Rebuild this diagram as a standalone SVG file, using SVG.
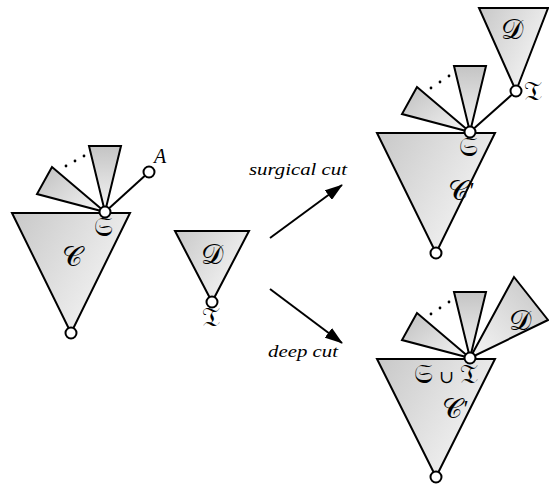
<svg xmlns="http://www.w3.org/2000/svg" width="549" height="485" viewBox="0 0 549 485">
<style>
.sh{stroke:#000;stroke-width:2;stroke-linejoin:miter}
.nd{fill:#fff;stroke:#000;stroke-width:2}
.ln{stroke:#000;stroke-width:2;fill:none}
.lb{font-family:"DejaVu Serif","DejaVu Sans",serif;font-size:28px;fill:#000;text-anchor:middle}
.fk{font-family:"DejaVu Serif","DejaVu Sans",serif;font-size:27px;fill:#000;text-anchor:middle}
.pr{font-family:"Liberation Serif",serif;font-style:italic;font-size:24px;fill:#000}
.it{font-family:"Liberation Serif",serif;font-style:italic;font-size:17px;fill:#000;text-anchor:middle}
.dot{fill:#000}
</style>
<defs>
<linearGradient id="gTri" x1="0" y1="0" x2="1" y2="0.6"><stop offset="0" stop-color="#c8c8c8"/><stop offset="1" stop-color="#f5f5f5"/></linearGradient>
<linearGradient id="gV" x1="0" y1="0" x2="0" y2="1"><stop offset="0" stop-color="#c4c4c4"/><stop offset="1" stop-color="#f6f6f6"/></linearGradient>
<linearGradient id="gL" x1="0" y1="0.2" x2="1" y2="1"><stop offset="0" stop-color="#c4c4c4"/><stop offset="1" stop-color="#f6f6f6"/></linearGradient>
<linearGradient id="gR" x1="1" y1="0" x2="0" y2="1"><stop offset="0" stop-color="#c4c4c4"/><stop offset="1" stop-color="#f6f6f6"/></linearGradient>
<marker id="ah" viewBox="0 0 18 12" refX="17" refY="6" markerWidth="18" markerHeight="12" markerUnits="userSpaceOnUse" orient="auto">
<path d="M0,0 L18,6 L0,12 Z" fill="#000"/>
</marker>
</defs>

<g id="left">
<polygon class="sh" fill="url(#gTri)" points="12,213 130,213 71,333"/>
<polygon class="sh" fill="url(#gL)" points="52,167 37,194 105,212"/>
<polygon class="sh" fill="url(#gV)" points="89,146 121,146 105,212"/>
<circle class="dot" cx="66" cy="166" r="1.4"/><circle class="dot" cx="75" cy="161" r="1.4"/><circle class="dot" cx="84" cy="156" r="1.4"/>
<line class="ln" x1="105" y1="212" x2="149" y2="172"/>
<circle class="nd" cx="149" cy="172" r="5.5"/>
<circle class="nd" cx="105" cy="212" r="5.5"/>
<circle class="nd" cx="71" cy="333" r="5.5"/>
<text class="fk" x="103" y="236">𝔖</text>
<text class="lb" x="72" y="266">𝒞</text>
<text class="it" x="160" y="163" style="font-size:20px">A</text>
</g>

<g id="middle">
<polygon class="sh" fill="url(#gTri)" points="175,231 249,231 212,302"/>
<circle class="nd" cx="212" cy="302" r="5.5"/>
<text class="lb" x="212" y="264">𝒟</text>
<text class="fk" x="211" y="326">𝔗</text>
</g>

<g id="connectors">
<line class="ln" x1="270" y1="238" x2="342" y2="185" marker-end="url(#ah)"/>
<line class="ln" x1="270" y1="289" x2="342" y2="343" marker-end="url(#ah)"/>
<text class="it" x="298" y="175" textLength="98" lengthAdjust="spacingAndGlyphs">surgical cut</text>
<text class="it" x="303" y="357" textLength="70" lengthAdjust="spacingAndGlyphs">deep cut</text>
</g>

<g id="topright">
<polygon class="sh" fill="url(#gTri)" points="377,133 495,133 436,253"/>
<polygon class="sh" fill="url(#gL)" points="417,87 402,114 470,132"/>
<polygon class="sh" fill="url(#gV)" points="454,66 486,66 470,132"/>
<circle class="dot" cx="431" cy="88" r="1.4"/><circle class="dot" cx="440" cy="82" r="1.4"/><circle class="dot" cx="449" cy="76" r="1.4"/>
<polygon class="sh" fill="url(#gTri)" points="479,8 548,8 516,91"/>
<line class="ln" x1="470" y1="132" x2="516" y2="91"/>
<circle class="nd" cx="516" cy="91" r="5.5"/>
<circle class="nd" cx="470" cy="132" r="5.5"/>
<circle class="nd" cx="436" cy="253" r="5.5"/>
<text class="lb" x="512" y="39">𝒟</text>
<text class="fk" x="533" y="100">𝔗</text>
<text class="fk" x="468" y="156">𝔖</text>
<text class="lb" x="458" y="200">𝒞</text>
<text class="pr" x="468" y="198">'</text>
</g>

<g id="bottomright">
<polygon class="sh" fill="url(#gTri)" points="377,359 495,359 436,477"/>
<polygon class="sh" fill="url(#gL)" points="417,313 402,340 470,358"/>
<polygon class="sh" fill="url(#gV)" points="454,292 486,292 470,358"/>
<polygon class="sh" fill="url(#gR)" points="514,277 548,320 470,358"/>
<circle class="dot" cx="431" cy="314" r="1.4"/><circle class="dot" cx="440" cy="308" r="1.4"/><circle class="dot" cx="449" cy="302" r="1.4"/>
<circle class="nd" cx="470" cy="358" r="5.5"/>
<circle class="nd" cx="436" cy="477" r="5.5"/>
<text class="lb" x="520" y="330">𝒟</text>
<text class="fk" x="446" y="383">𝔖<tspan font-size="18px"> ∪ </tspan>𝔗</text>
<text class="lb" x="452" y="418">𝒞</text>
<text class="pr" x="462" y="416">'</text>
</g>
</svg>
